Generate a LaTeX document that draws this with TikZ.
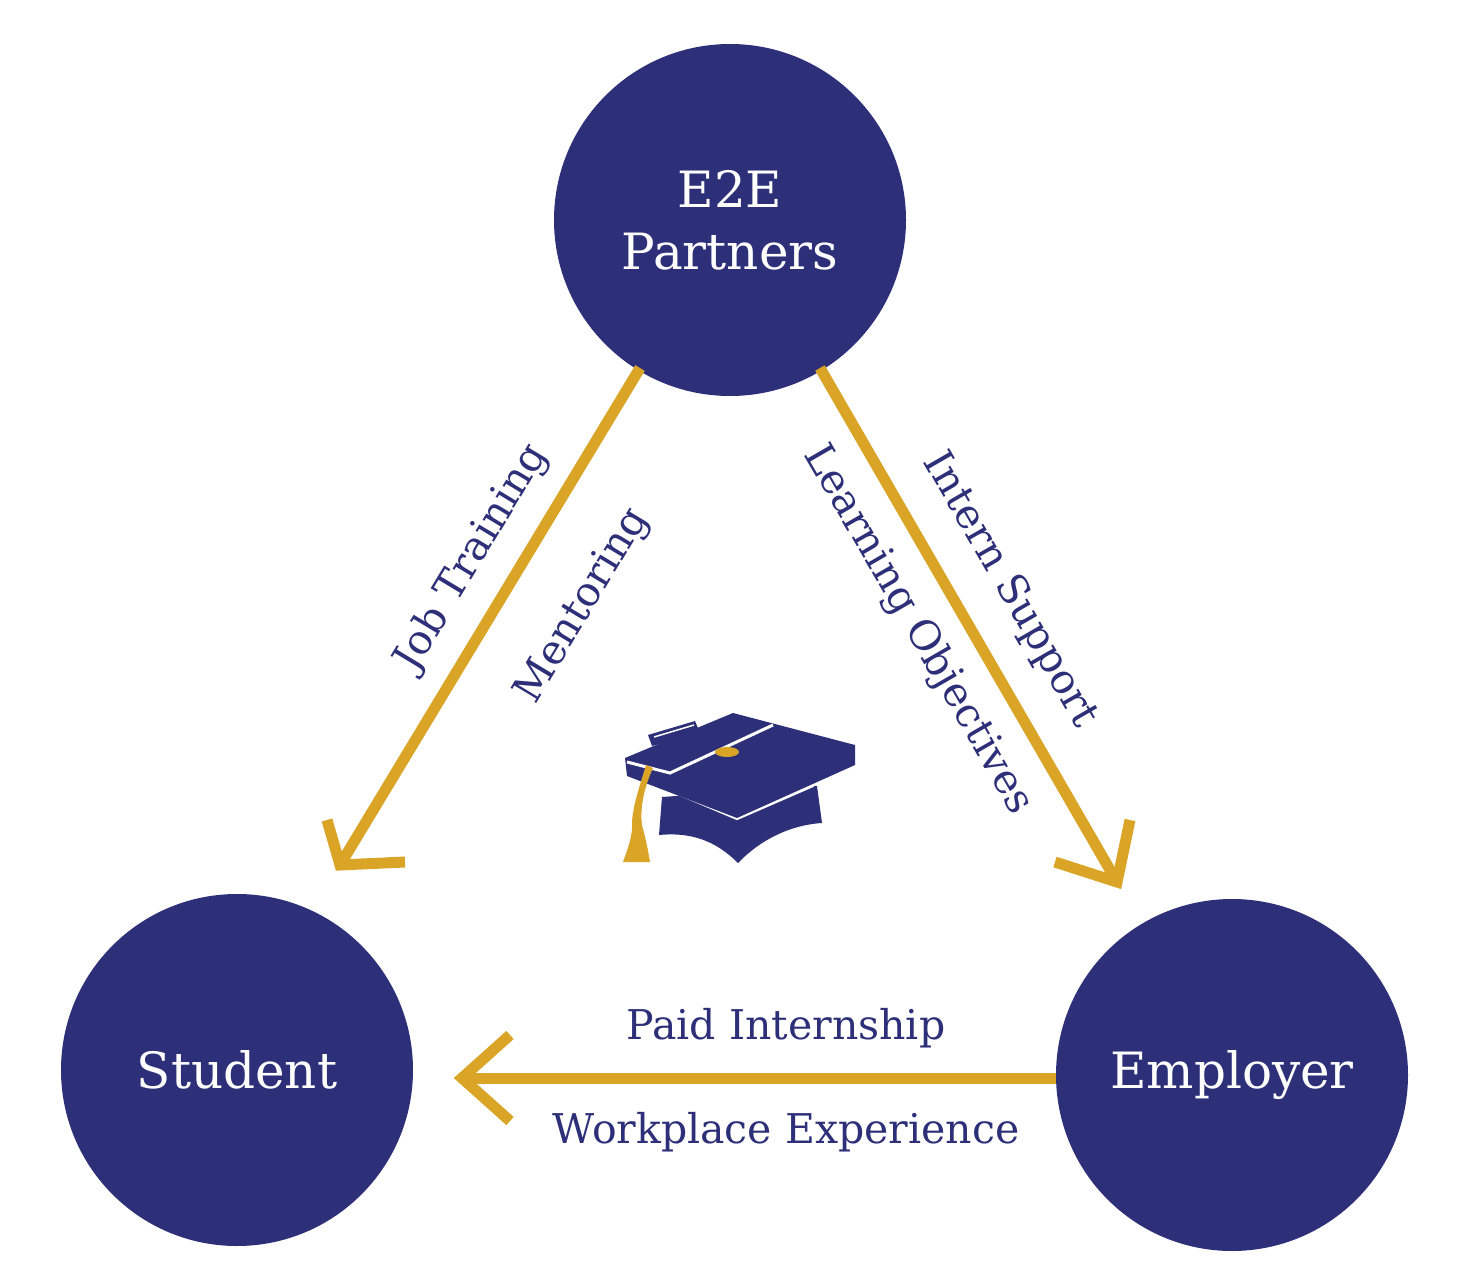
\documentclass[tikz,border=0pt]{standalone}
\usepackage{fontspec}
\setmainfont{DejaVu Serif}
\begin{document}
\begin{tikzpicture}[x=1pt,y=-1pt]
\definecolor{navy}{RGB}{45,48,120}
\definecolor{gold}{RGB}{218,165,38}
\tikzset{
  party/.style={circle,fill=navy,minimum size=352pt,inner sep=0pt,text=white,font=\fontsize{50}{62}\selectfont,align=center},
  flow/.style={draw=gold,line width=11pt},
  tip/.style={draw=gold,line width=11pt},
  lbl/.style={text=navy,font=\fontsize{41}{48}\selectfont}
}
\useasboundingbox (0,0) rectangle (1470,1287);
\node[party] (e2e) at (730,220) {E2E\\Partners};
\node[party] (stu) at (237,1070) {Student};
\node[party] (emp) at (1232,1075) {Employer};
% connectors
\coordinate (l1) at (640,368); \coordinate (l2) at (340,865);
\coordinate (r1) at (820,368); \coordinate (r2) at (1117,882);
\coordinate (b1) at (1056,1078); \coordinate (b2) at (462,1078);
\draw[flow] (l1) -- (l2);
\draw[tip,line join=miter] (327,820) -- (l2) -- (405,862);
\draw[flow] (r1) -- (r2);
\draw[tip,line join=miter] (1055,862) -- (r2) -- (1130,820);
\draw[flow] (b1) -- (b2);
\draw[tip,line join=miter] (510,1035) -- (b2) -- (510,1121);
% labels
\node[lbl,rotate=58.9] (jt) at (472,558) {Job Training};
\node[lbl,rotate=58.9] (mt) at (583,606) {Mentoring};
\node[lbl,rotate=-60] (is) at (1010,590) {Intern Support};
\node[lbl,rotate=-60] (lo) at (918,630) {Learning Objectives};
\node[lbl] (pi) at (786,1028) {Paid Internship};
\node[lbl] (we) at (786,1132) {Workplace Experience};
% cap
\fill[navy] (662,797) -- (817,786) -- (822,823) .. controls (790,825) and (760,840) .. (738,863) .. controls (715,840) and (690,832) .. (659,835) -- cycle;
\draw[white,line width=4pt] (652,782) -- (737,818) -- (813,785);
\fill[navy] (625,758) -- (733,713) -- (855,745) -- (855,765) -- (737,818) -- (627,776) -- cycle;
\fill[navy] (648,735) -- (695,721) -- (700,733) -- (652,746) -- cycle;
\draw[white,line width=1.5pt] (654,737) -- (694,725);
\draw[white,line width=3pt] (627,762) -- (670,773) -- (773,725);
\fill[gold] (727,752) ellipse (12 and 5);
\fill[gold] (646,765) -- (653,768) .. controls (643,790) and (640,810) .. (642,825) .. controls (646,840) and (648,850) .. (650,862) -- (623,862) .. controls (628,848) and (633,835) .. (632,822) .. controls (633,805) and (640,785) .. cycle;
\end{tikzpicture}
\end{document}
